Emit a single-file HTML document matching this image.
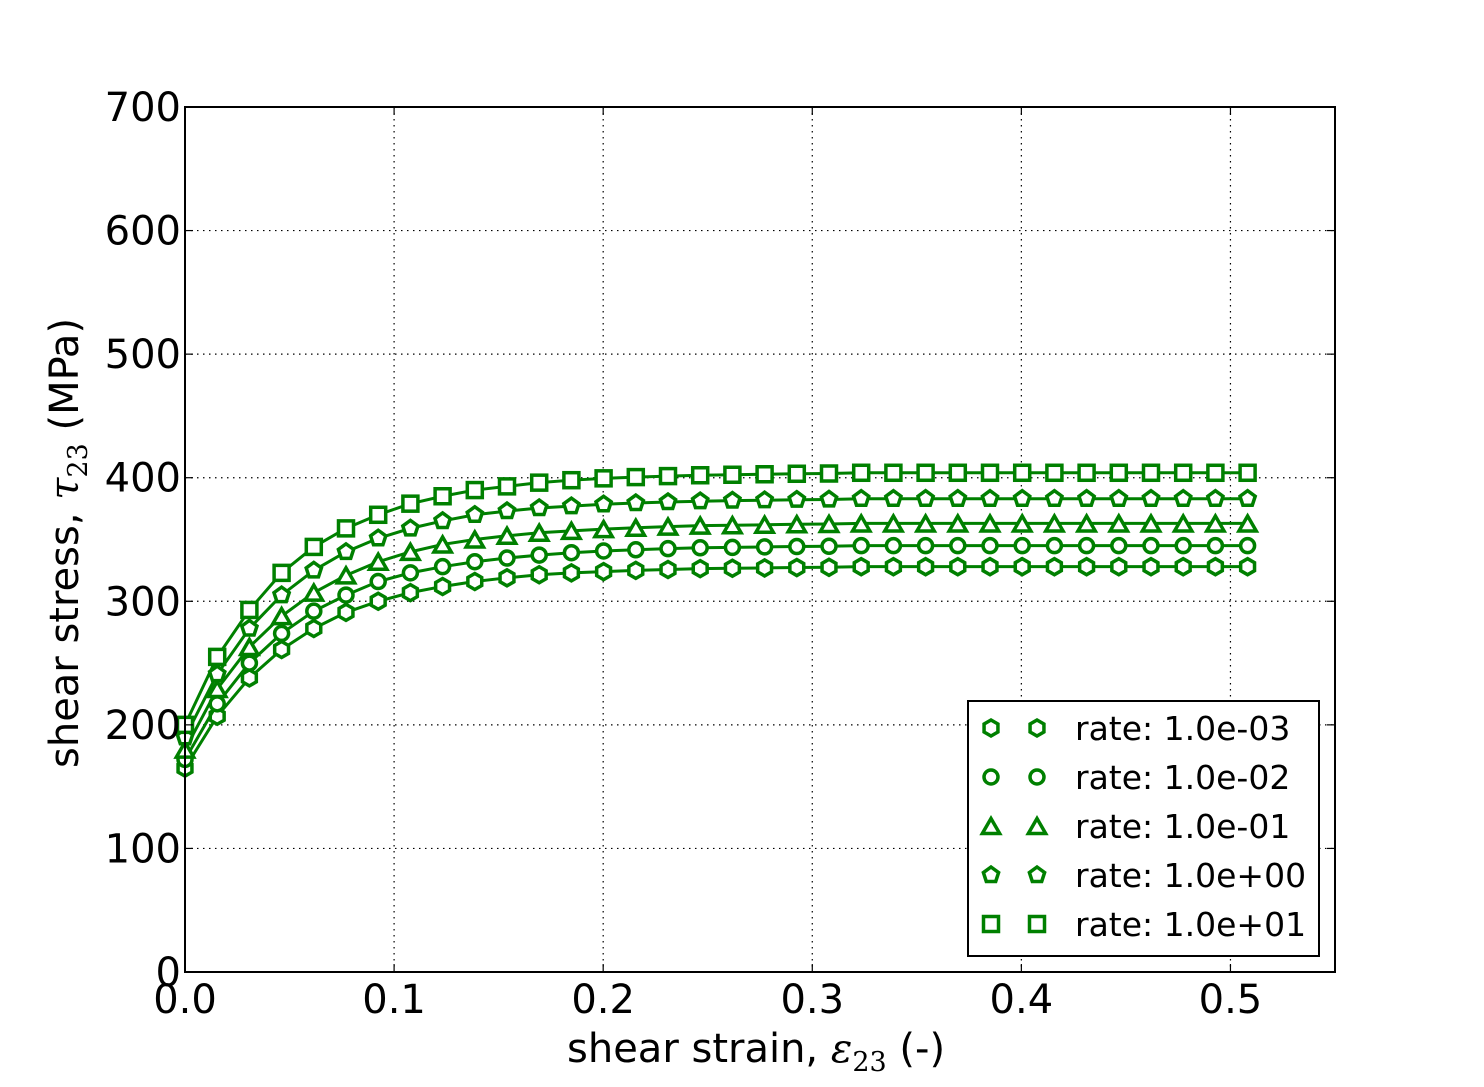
<!DOCTYPE html>
<html><head><meta charset="utf-8"><style>
body{margin:0;background:#fff}
svg text{font-family:"DejaVu Sans","Liberation Sans",sans-serif}
</style></head><body>
<svg id="chart" width="1484" height="1082" viewBox="0 0 1484 1082" xmlns="http://www.w3.org/2000/svg">
<rect width="1484" height="1082" fill="#fff"/>
<g id="grid"></g>
<g id="series"></g>
<rect x="185" y="107" width="1150" height="865" fill="none" stroke="#000" stroke-width="2"/>
<g id="ticks"></g>
<text x="567" y="1062" font-size="40">shear strain, <tspan font-family="DejaVu Serif,serif" font-style="italic">ε</tspan><tspan font-size="27" dy="9" font-family="DejaVu Serif,serif">23</tspan><tspan dy="-9"> (-)</tspan></text>
<text transform="translate(78,768) rotate(-90)" font-size="40">shear stress, <tspan font-family="DejaVu Serif,serif" font-style="italic">τ</tspan><tspan font-size="27" dy="9" font-family="DejaVu Serif,serif">23</tspan><tspan dy="-9"> (MPa)</tspan></text>
<g id="legend">
<rect x="968" y="701" width="351" height="255" fill="#fff" stroke="#000" stroke-width="2"/>
</g>
</svg>
<script>
const strain = [];
const xStep = 0.0154;
const rates = ["rate: 1.0e-03","rate: 1.0e-02","rate: 1.0e-01","rate: 1.0e+00","rate: 1.0e+01"];
const markers = ["hexagon","circle","triangle","pentagon","square"];
const s1 = [165,207,238,261,278,291,300,307,312,316,319,321.5,323,324,325,325.7,326.4,326.7,327,327.3,327.5,328,328,328,328,328,328,328,328,328,328,328,328,328];
const s2 = [172,217,250,274,292,305,316,323,328,332,335,337.4,339.3,340.7,341.7,342.6,343.3,343.6,344,344.3,344.5,345,345,345,345,345,345,345,345,345,345,345,345,345];
const s3 = [180,229,263,288,307,321,332,340,346,350,353,355.5,357,358.4,359.5,360.4,361.2,361.5,361.9,362.3,362.5,363,363,363,363,363,363,363,363,363,363,363,363,363];
const s4 = [190,241,278,305,325,340,351,359,365,370,373,375.5,377,378.5,379.5,380.3,381,381.5,381.8,382.2,382.4,383,383,383,383,383,383,383,383,383,383,383,383,383];
const s5 = [200,255,293,323,344,359,370,379,385,390,393,396,398,399.5,400.5,401.3,402,402.4,402.8,403.2,403.4,404,404,404,404,404,404,404,404,404,404,404,404,404];
const xTicks = [0,0.1,0.2,0.3,0.4,0.5];
const xTickLabels = ["0.0","0.1","0.2","0.3","0.4","0.5"];
const yTicks = [0,100,200,300,400,500,600,700];
const yTickLabels = ["0","100","200","300","400","500","600","700"];
for(let i=0;i<34;i++) strain.push(+(i*xStep).toFixed(4));
const series=[s1,s2,s3,s4,s5];
const NS="http://www.w3.org/2000/svg";
const X0=185,X1=1335,Y0=972,Y1=107;
const sx=v=>X0+(v/0.55)*(X1-X0);
const sy=v=>Y0-(v/700)*(Y0-Y1);
const G="#008000";
function mk(tag,attrs,parent){const e=document.createElementNS(NS,tag);for(const k in attrs)e.setAttribute(k,attrs[k]);parent.appendChild(e);return e;}
const grid=document.getElementById('grid'),ticks=document.getElementById('ticks'),ser=document.getElementById('series'),leg=document.getElementById('legend');
xTicks.forEach((t,i)=>{
  const x=sx(t);
  if(t>0){const gl=mk('line',{x1:x,x2:x,y1:Y1,y2:Y0,stroke:'#000','stroke-width':1.2,'stroke-dasharray':'1.5,4.5'},grid);
  
  }
  const a=mk('line',{x1:x,x2:x,y1:Y0,y2:Y0-8,stroke:'#000','stroke-width':1.2},ticks);
  
  
  const b=mk('line',{x1:x,x2:x,y1:Y1,y2:Y1+8,stroke:'#000','stroke-width':1.2},ticks);
  
  
  const tx=mk('text',{x:x,y:1013,'font-size':40,'text-anchor':'middle'},ticks);tx.textContent=xTickLabels[i];
  
  
});
yTicks.forEach((t,i)=>{
  const y=sy(t);
  if(t>0&&t<700){const gl=mk('line',{x1:X0,x2:X1,y1:y,y2:y,stroke:'#000','stroke-width':1.2,'stroke-dasharray':'1.5,4.5'},grid);
  
  }
  const a=mk('line',{x1:X0,x2:X0+8,y1:y,y2:y,stroke:'#000','stroke-width':1.2},ticks);
  
  
  const b=mk('line',{x1:X1,x2:X1-8,y1:y,y2:y,stroke:'#000','stroke-width':1.2},ticks);
  
  
  const tx=mk('text',{x:181,y:y+14,'font-size':40,'text-anchor':'end'},ticks);tx.textContent=yTickLabels[i];
  
  
});
function marker(type,x,y,parent){
  const st={fill:'#fff',stroke:G,'stroke-width':3.5};
  let e;
  if(type==='circle'){e=mk('circle',Object.assign({cx:x,cy:y,r:7},st),parent);}
  else if(type==='square'){e=mk('rect',Object.assign({x:x-7.5,y:y-7.5,width:15,height:15},st),parent);}
  else{
    let n=type==='triangle'?3:type==='pentagon'?5:6,r=type==='triangle'?10:8,pts=[];
    for(let k=0;k<n;k++){const a=-Math.PI/2+k*2*Math.PI/n;pts.push((x+r*Math.cos(a)).toFixed(2)+','+(y+r*Math.sin(a)+(type==='triangle'?2.5:0)).toFixed(2));}
    e=mk('polygon',Object.assign({points:pts.join(' ')},st),parent);
  }
  return e;
}
series.forEach((s,si)=>{
  const g=mk('g',{},ser);
  
  
  const pl=mk('polyline',{points:s.map((v,i)=>sx(strain[i])+','+sy(v)).join(' '),fill:'none',stroke:G,'stroke-width':3},g);
  
  
  s.forEach((v,i)=>{const m=marker(markers[si],sx(strain[i]),sy(v),g);
    
    });
  const ly=728+si*49;
  const m1=marker(markers[si],991,ly,leg);
  
  
  const m2=marker(markers[si],1037,ly,leg);
  
  
  const t=mk('text',{x:1075,y:ly+12,'font-size':33},leg);t.textContent=rates[si];
  
  
});
</script>
</body></html>
